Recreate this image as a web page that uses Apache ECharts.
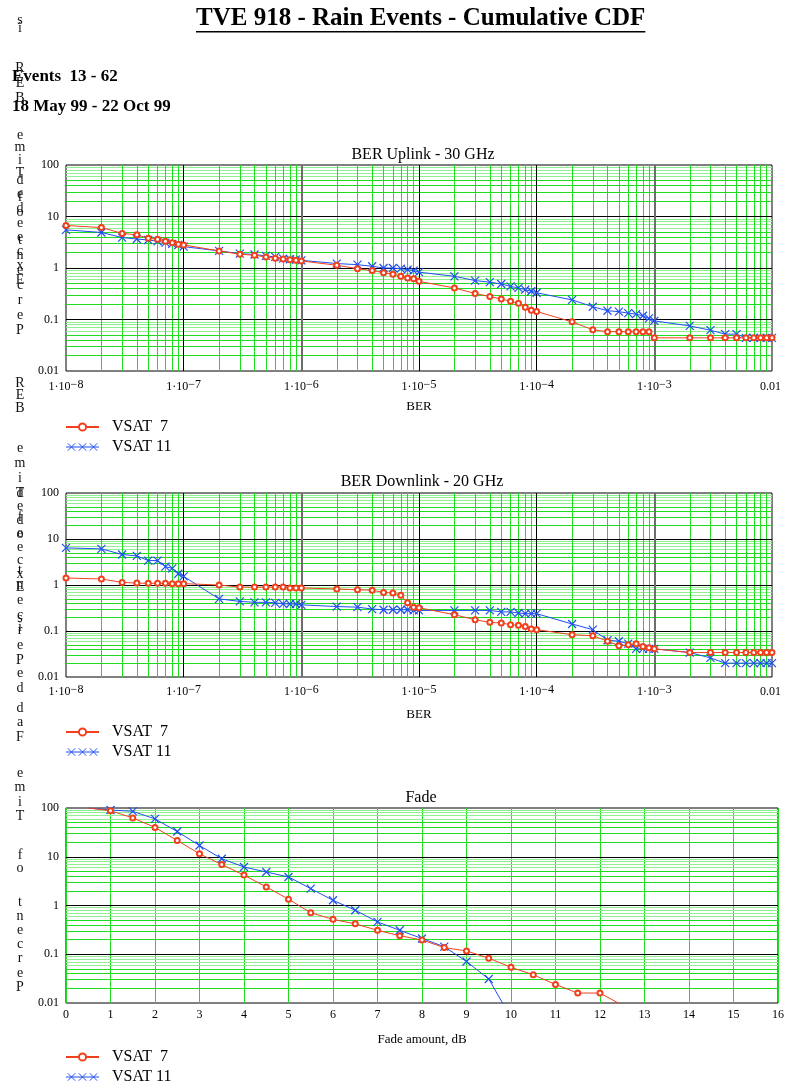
<!DOCTYPE html>
<html>
<head>
<meta charset="utf-8">
<script src="https://cdn.jsdelivr.net/npm/echarts@6/dist/echarts.min.js"></script>
<style>
html,body{margin:0;padding:0;background:#fff}
#main{width:787px;height:1086px}
</style>
</head>
<body>
<div id="main"></div>
<script>
// BER levels (x axis of the two BER plots)
var berLevels = [
  1e-8, 2e-8, 3e-8, 4e-8, 5e-8, 6e-8, 7e-8, 8e-8, 9e-8,
  1e-7, 2e-7, 3e-7, 4e-7, 5e-7, 6e-7, 7e-7, 8e-7, 9e-7,
  1e-6, 2e-6, 3e-6, 4e-6, 5e-6, 6e-6, 7e-6, 8e-6, 9e-6,
  1e-5, 2e-5, 3e-5, 4e-5, 5e-5, 6e-5, 7e-5, 8e-5, 9e-5,
  1e-4, 2e-4, 3e-4, 4e-4, 5e-4, 6e-4, 7e-4, 8e-4, 9e-4,
  1e-3, 2e-3, 3e-3, 4e-3, 5e-3, 6e-3, 7e-3, 8e-3, 9e-3,
  1e-2
];
// percent of time BER exceeded - uplink 30 GHz
var upVsat7 = [
  6.7, 6.1, 4.7, 4.4, 3.8, 3.6, 3.3, 3.1, 2.9,
  2.8, 2.15, 1.85, 1.77, 1.64, 1.55, 1.5, 1.45, 1.41,
  1.37, 1.13, 0.97, 0.89, 0.81, 0.76, 0.69, 0.64, 0.62,
  0.55, 0.41, 0.32, 0.28, 0.25, 0.225, 0.206, 0.172, 0.152,
  0.143, 0.09, 0.063, 0.058, 0.058, 0.058, 0.058, 0.058, 0.058,
  0.044, 0.044, 0.044, 0.044, 0.044, 0.044, 0.044, 0.044, 0.044,
  0.044
];
var upVsat11 = [
  5.5, 4.9, 3.9, 3.65, 3.5, 3.3, 3.1, 2.95, 2.8,
  2.6, 2.15, 1.9, 1.83, 1.72, 1.64, 1.52, 1.48, 1.45,
  1.41, 1.22, 1.16, 1.08, 1.0, 1.0, 0.97, 0.93, 0.89,
  0.83, 0.69, 0.57, 0.53, 0.49, 0.44, 0.41, 0.38, 0.354,
  0.33, 0.24, 0.177, 0.148, 0.142, 0.133, 0.127, 0.118, 0.105,
  0.094, 0.075, 0.062, 0.052, 0.052, 0.044, 0.044, 0.044, 0.044,
  0.044
];
// downlink 20 GHz
var dnVsat7 = [
  1.42, 1.35, 1.14, 1.1, 1.09, 1.09, 1.09, 1.07, 1.07,
  1.07, 1.0, 0.9, 0.9, 0.9, 0.9, 0.9, 0.86, 0.86,
  0.86, 0.82, 0.79, 0.77, 0.69, 0.67, 0.6, 0.41, 0.33,
  0.32, 0.226, 0.176, 0.154, 0.149, 0.137, 0.133, 0.126, 0.11,
  0.107, 0.083, 0.079, 0.06, 0.048, 0.05, 0.053, 0.046, 0.043,
  0.041, 0.034, 0.034, 0.034, 0.034, 0.034, 0.034, 0.034, 0.034,
  0.034
];
var dnVsat11 = [
  6.4, 6.1, 4.6, 4.3, 3.4, 3.4, 2.5, 2.3, 1.76,
  1.54, 0.5, 0.44, 0.42, 0.42, 0.41, 0.39, 0.386, 0.386,
  0.37, 0.34, 0.33, 0.3, 0.29, 0.29, 0.29, 0.29, 0.28,
  0.28, 0.28, 0.28, 0.28, 0.26, 0.26, 0.246, 0.238, 0.238,
  0.238, 0.142, 0.107, 0.063, 0.06, 0.053, 0.041, 0.041, 0.041,
  0.041, 0.034, 0.026, 0.02, 0.02, 0.02, 0.02, 0.02, 0.02,
  0.02
];
// fade plot
var fadeDb = [0.5, 1, 1.5, 2, 2.5, 3, 3.5, 4, 4.5, 5, 5.5, 6, 6.5, 7, 7.5, 8, 8.5, 9, 9.5, 10, 10.5, 11, 11.5, 12, 12.5];
var fadeVsat7 = [100, 88, 62.5, 40, 21.5, 11.5, 6.9, 4.2, 2.4, 1.35, 0.71, 0.52, 0.42, 0.31, 0.24, 0.196, 0.137, 0.117, 0.083, 0.054, 0.038, 0.024, 0.016, 0.016, 0.009];
var fadeVsat11 = [100, 91, 85.5, 59.7, 32.9, 17, 9.1, 6.15, 4.87, 3.85, 2.22, 1.28, 0.8, 0.46, 0.31, 0.21, 0.143, 0.071, 0.031, 0.005];

var berTickExp = ['\u22128', '\u22127', '\u22126', '\u22125', '\u22124', '\u22123'];
var berLastTick = '0.01';
var pctTicks = ['0.01', '0.1', '1', '10', '100'];
var names = ['VSAT  7', 'VSAT 11'];

var RED = '#f2401d', BLUE = '#1f4ff0', GREEN = '#1fdc1f', PALE = '#8ff08f';
var SERIF = '"Liberation Serif", "Times New Roman", serif';
var CROSS = 'path://M0,0L10,10M10,0L0,10';
var CROSS_LEG = 'path://M0,5L36,5M2,1L10,9M10,1L2,9M14,1L22,9M22,1L14,9M26,1L34,9M34,1L26,9';

// stacked letters of the y axis titles, as the original export left them
var sideLetters = [
  ['s', 20, 15], ['i', 28, 15], ['R\nE\nB', 68, 15], ['e\nm\ni\nT', 135, 12.7],
  ['d\ne\nd\ne\ne\nc\nx\nE', 180, 14.3], ['f\no', 197, 15], ['t\nn\ne\nc\nr\ne\nP', 240, 15],
  ['R\nE\nB', 383, 12.5], ['e\nm\ni\nT', 448, 15], ['d\ne\nd\ne\ne\nc\nx\nE', 493, 13.5],
  ['f\no', 517, 17], ['t\nn\ne\nc\nr\ne\nP', 570, 15], ['s\ni', 618, 9], ['e\nd', 673, 15],
  ['d\na\nF', 708, 14.5],
  ['e\nm\ni\nT', 773, 14.5], ['f\no', 855, 13.5], ['t\nn\ne\nc\nr\ne\nP', 902, 14.2]
];

var chart = echarts.init(document.getElementById('main'));

function pairs(xs, ys) {
  return ys.map(function (y, i) {
    return y >= 100 ? { value: [xs[i], y], symbol: 'none' } : [xs[i], y];
  });
}
function logMinor(lo, hi) {
  var out = [];
  for (var e = lo; e < hi; e++) for (var k = 2; k <= 9; k++) out.push(k * Math.pow(10, e));
  return out;
}
function decades(lo, hi) {
  var out = [];
  for (var e = lo + 1; e < hi; e++) out.push(Math.pow(10, e));
  return out;
}
function berLabel(v) {
  var e = Math.round(Math.log10(v));
  if (e >= -2) return '{b|' + berLastTick + '}{s| }';
  return '{b|1\u00b710}{s|' + berTickExp[e + 8] + '}';
}
function pctLabel(v) {
  return pctTicks[Math.round(Math.log10(v)) + 2];
}

var grids = [
  { left: 66, right: 8, top: 165, height: 206 },
  { left: 66, right: 8, top: 493, height: 184 },
  { left: 66, right: 9, top: 808, height: 195 }
];
grids.forEach(function (g) { g.show = true; g.borderColor = '#000'; g.borderWidth = 1; g.backgroundColor = 'transparent'; });

var xAxes = [0, 1].map(function (i) {
  return {
    type: 'log', logBase: 10, min: 1e-8, max: 1e-2, gridIndex: i,
    name: 'BER', nameLocation: 'middle', nameGap: i === 0 ? 29 : 31,
    nameTextStyle: { fontFamily: SERIF, fontSize: 13, color: '#000' },
    axisLine: { show: false }, axisTick: { show: false }, splitLine: { show: false },
    axisLabel: {
      margin: i === 0 ? 8 : 7, showMinLabel: true, showMaxLabel: true, formatter: berLabel,
      rich: {
        b: { fontFamily: SERIF, fontSize: 12, color: '#000', lineHeight: 14, verticalAlign: 'bottom' },
        s: { fontFamily: SERIF, fontSize: 12, color: '#000', lineHeight: 13, padding: [0, 0, 7, 0], verticalAlign: 'top' }
      }
    }
  };
});
xAxes.push({
  type: 'value', min: 0, max: 16, interval: 1, gridIndex: 2,
  name: 'Fade amount, dB', nameLocation: 'middle', nameGap: 30,
  nameTextStyle: { fontFamily: SERIF, fontSize: 13, color: '#000' },
  axisLine: { show: false }, axisTick: { show: false },
  splitLine: { show: true, lineStyle: { color: GREEN, width: 1 } },
  axisLabel: { margin: 6, fontFamily: SERIF, fontSize: 12, color: '#000' }
});
var yAxes = [0, 1, 2].map(function (i) {
  return {
    type: 'log', logBase: 10, min: 0.01, max: 100, gridIndex: i,
    axisLine: { show: false }, axisTick: { show: false }, splitLine: { show: false },
    axisLabel: { margin: 7, fontFamily: SERIF, fontSize: 12, color: '#000', formatter: pctLabel, padding: [4, 0, 0, 0] }
  };
});

// grid lines as two-point mark lines in data coordinates
function gridLines(i, isBer) {
  var x0 = isBer ? 1e-8 : 0, x1 = isBer ? 1e-2 : 16;
  var d = [];
  function hLine(v, style) { d.push([{ coord: [x0, v], lineStyle: style }, { coord: [x1, v], lineStyle: style }]); }
  function vLine(v, style) { d.push([{ coord: [v, 0.01], lineStyle: style }, { coord: [v, 100], lineStyle: style }]); }
  logMinor(-2, 2).forEach(function (v) {
    var k = Math.round(v / Math.pow(10, Math.floor(Math.log10(v) + 1e-9)));
    hLine(v, { color: k >= 6 ? PALE : GREEN, width: 1, type: 'solid' });
  });
  if (isBer) {
    logMinor(-8, -2).forEach(function (v) { vLine(v, { color: GREEN, width: 1, type: 'solid' }); });
  }
  decades(-2, 2).forEach(function (v) { hLine(v, { color: '#000', width: 1, type: 'solid' }); });
  if (isBer) {
    decades(-8, -2).forEach(function (v) {
      var e = Math.round(Math.log10(v));
      var heavy = (e === -6 || e === -3);
      vLine(v, { color: heavy ? '#6e6e6e' : '#000', width: heavy ? 2 : 1, type: 'solid' });
    });
  }
  return {
    type: 'line', xAxisIndex: i, yAxisIndex: i, silent: true, z: 1,
    data: [[x0, 100]], symbol: 'none', lineStyle: { opacity: 0 },
    markLine: {
      silent: true, symbol: ['none', 'none'], label: { show: false }, z: 1, animation: false,
      emphasis: { disabled: true }, data: d
    }
  };
}

function vsat7(i, xs, ys) {
  return {
    name: names[0], type: 'line', xAxisIndex: i, yAxisIndex: i, data: pairs(xs, ys),
    symbol: 'emptyCircle', symbolSize: 5, showAllSymbol: true, z: 4,
    lineStyle: { color: RED, width: 1 },
    itemStyle: { color: RED, borderColor: RED, borderWidth: 1 }
  };
}
function vsat11(i, xs, ys) {
  return {
    name: names[1], type: 'line', xAxisIndex: i, yAxisIndex: i, data: pairs(xs, ys),
    symbol: CROSS, symbolSize: 8, showAllSymbol: true, z: 3,
    lineStyle: { color: BLUE, width: 1 },
    itemStyle: { color: 'rgba(0,0,0,0)', borderColor: BLUE, borderWidth: 1.2 }
  };
}

var legends = [419, 724, 1049].map(function (top) {
  return {
    left: 65, top: top, orient: 'vertical', itemWidth: 33, itemHeight: 9, itemGap: 4,
    padding: 0, selectedMode: false,
    textStyle: { fontFamily: SERIF, fontSize: 16, color: '#000', lineHeight: 16, padding: [0, 0, 0, 8] },
    data: [
      { name: names[0] },
      { name: names[1], icon: CROSS_LEG, itemStyle: { color: 'rgba(0,0,0,0)', borderColor: BLUE, borderWidth: 1 } }
    ]
  };
});

var mainTitle = 'TVE 918 - Rain Events - Cumulative CDF';
var ctx = document.createElement('canvas').getContext('2d');
ctx.font = 'bold 25px "Liberation Serif"';
var titleW = ctx.measureText(mainTitle).width;
var titleX = 196;

var graphics = [
  { type: 'text', x: titleX, y: 19, style: { text: mainTitle, fontFamily: SERIF, fontSize: 25, fontWeight: 'bold', fill: '#000', align: 'left', verticalAlign: 'middle' } },
  { type: 'rect', shape: { x: titleX, y: 31, width: titleW, height: 1.6 }, style: { fill: '#000' } },
  { type: 'text', x: 12, y: 77, style: { text: 'Events  13 - 62', fontFamily: SERIF, fontSize: 17, fontWeight: 'bold', fill: '#000', verticalAlign: 'middle' } },
  { type: 'text', x: 12, y: 107, style: { text: '18 May 99 - 22 Oct 99', fontFamily: SERIF, fontSize: 17, fontWeight: 'bold', fill: '#000', verticalAlign: 'middle' } },
  { type: 'text', x: 423, y: 155, style: { text: 'BER Uplink - 30 GHz', fontFamily: SERIF, fontSize: 16, fill: '#000', align: 'center', verticalAlign: 'middle' } },
  { type: 'text', x: 422, y: 482, style: { text: 'BER Downlink - 20 GHz', fontFamily: SERIF, fontSize: 16, fill: '#000', align: 'center', verticalAlign: 'middle' } },
  { type: 'text', x: 421, y: 798, style: { text: 'Fade', fontFamily: SERIF, fontSize: 16, fill: '#000', align: 'center', verticalAlign: 'middle' } }
];
sideLetters.forEach(function (s) {
  graphics.push({
    type: 'text', x: 20, y: s[1] - s[2] / 2,
    style: { text: s[0], fontFamily: SERIF, fontSize: 14, fill: '#111', lineHeight: s[2], align: 'center', verticalAlign: 'top' }
  });
});

chart.setOption({
  animation: false,
  backgroundColor: '#fff',
  grid: grids,
  xAxis: xAxes,
  yAxis: yAxes,
  legend: legends,
  graphic: graphics,
  series: [
    gridLines(0, true), gridLines(1, true), gridLines(2, false),
    vsat7(0, berLevels, upVsat7), vsat11(0, berLevels, upVsat11),
    vsat7(1, berLevels, dnVsat7), vsat11(1, berLevels, dnVsat11),
    vsat7(2, fadeDb, fadeVsat7), vsat11(2, fadeDb, fadeVsat11)
  ]
});
</script>
</body>
</html>
